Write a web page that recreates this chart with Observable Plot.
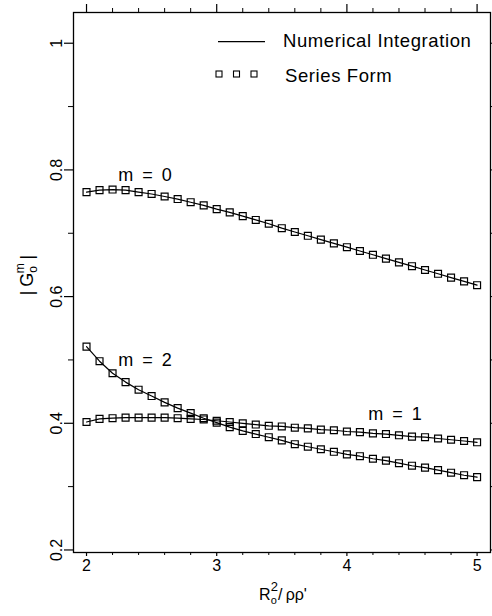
<!DOCTYPE html>
<html><head><meta charset="utf-8">
<script src="https://cdn.jsdelivr.net/npm/d3@7"></script>
<script src="https://cdn.jsdelivr.net/npm/@observablehq/plot@0.6"></script>
<style>body{margin:0;background:#fff} svg text{white-space:pre}</style>
</head><body><div id="chart"></div>
<script>
const xValues = [2.0,2.1,2.2,2.3,2.4,2.5,2.6,2.7,2.8,2.9,3.0,3.1,3.2,3.3,3.4,3.5,3.6,3.7,3.8,3.9,4.0,4.1,4.2,4.3,4.4,4.5,4.6,4.7,4.8,4.9,5.0];
const m0 = [0.765,0.768,0.769,0.768,0.765,0.762,0.758,0.754,0.749,0.744,0.738,0.733,0.727,0.721,0.715,0.708,0.702,0.696,0.690,0.684,0.678,0.672,0.666,0.660,0.654,0.648,0.642,0.636,0.630,0.624,0.618];
const m1 = [0.402,0.407,0.408,0.409,0.409,0.409,0.409,0.408,0.407,0.406,0.404,0.402,0.400,0.398,0.396,0.395,0.393,0.392,0.390,0.389,0.387,0.386,0.384,0.383,0.381,0.379,0.378,0.376,0.374,0.372,0.370];
const m2 = [0.521,0.498,0.479,0.465,0.453,0.443,0.433,0.424,0.416,0.408,0.401,0.394,0.388,0.383,0.378,0.373,0.367,0.363,0.359,0.355,0.351,0.348,0.344,0.341,0.337,0.333,0.330,0.326,0.322,0.318,0.315];
const seriesNames = ["m = 0","m = 1","m = 2"];
const labelX = [2.45, 4.37, 2.45];
const labelY = [0.791, 0.415, 0.499];
const xMajorTicks = [2,3,4,5];
const xMinorTicks = [2.2,2.4,2.6,2.8,3.2,3.4,3.6,3.8,4.2,4.4,4.6,4.8];
const yMajorTicks = [0.2,0.4,0.6,0.8,1];
const yMinorTicks = [0.3,0.5,0.7,0.9];
const legendLabels = ["Numerical Integration","Series Form"];

const allSeries = [m0, m1, m2];
const data = allSeries.flatMap((vals, s) => vals.map((v, i) => ({series: seriesNames[s], x: xValues[i], y: v})));
const labels = seriesNames.map((t, i) => ({text: t.replace(/ /g, "\u2002"), x: labelX[i], y: labelY[i]}));

const font = "Liberation Sans, Arial, sans-serif";
const svg = Plot.plot({
  width: 492, height: 616,
  marginLeft: 73, marginRight: 2, marginTop: 12, marginBottom: 64,
  style: {fontFamily: font, fontSize: "16px", background: "white", color: "black"},
  x: {domain: [1.9, 5.103], label: null},
  y: {domain: [0.196, 1.0485], label: null},
  marks: [
    Plot.axisX({ticks: xMajorTicks, anchor: "bottom", tickSize: 4, tickPadding: 3, fontSize: 16, tickFormat: d => String(d), label: null, strokeWidth: 1.2}),
    Plot.axisX({ticks: xMinorTicks, anchor: "bottom", tickSize: 3, tickFormat: () => "", label: null}),
    Plot.axisX({ticks: xMajorTicks, anchor: "top", tickSize: 9, tickFormat: () => "", label: null, strokeWidth: 1.2}),
    Plot.axisX({ticks: xMinorTicks, anchor: "top", tickSize: 5, tickFormat: () => "", label: null}),
    Plot.axisY({ticks: yMajorTicks, anchor: "left", tickSize: 9, tickPadding: 3, tickRotate: -90, fontSize: 16,
      tickFormat: d => d === 1 ? "1" : d.toFixed(1), label: null, strokeWidth: 1.2}),
    Plot.axisY({ticks: yMinorTicks, anchor: "left", tickSize: 5, tickFormat: () => "", label: null}),
    Plot.axisY({ticks: yMajorTicks.concat(yMinorTicks), anchor: "right", tickSize: 6, tickFormat: () => "", label: null}),
    Plot.frame({stroke: "black", strokeWidth: 1.3}),
    Plot.line(data, {x: "x", y: "y", z: "series", stroke: "black", strokeWidth: 1.2}),
    Plot.dot(data, {x: "x", y: "y", symbol: "square", r: 3.9, stroke: "black", strokeWidth: 1.2, fill: "none"}),
    Plot.text(labels, {x: "x", y: "y", text: "text", fontSize: 18, fill: "black", textAnchor: "middle"})
  ]
});

const g = d3.select(svg).append("g").attr("font-family", font).attr("fill", "black").attr("text-anchor", "start");
// legend
g.append("line").attr("x1", 218).attr("x2", 265).attr("y1", 41.7).attr("y2", 41.7).attr("stroke", "black").attr("stroke-width", 1.2);
g.append("text").attr("x", 283).attr("y", 47).attr("text-anchor", "start").attr("font-size", 18.5).attr("letter-spacing", 0.6).text(legendLabels[0]);
[219, 236.5, 254].forEach(cx => g.append("rect").attr("x", cx - 3).attr("y", 71).attr("width", 6).attr("height", 6).attr("fill", "none").attr("stroke", "black").attr("stroke-width", 1.1));
g.append("text").attr("x", 285).attr("y", 81.5).attr("text-anchor", "start").attr("font-size", 18.5).attr("letter-spacing", 0.6).text(legendLabels[1]);
// y title
const yt = g.append("text").attr("transform", "translate(33,275) rotate(-90)").attr("text-anchor", "middle").attr("font-size", 18);
yt.append("tspan").text("|\u2009G");
yt.append("tspan").attr("font-size", 12).attr("dy", 4).text("o");
yt.append("tspan").attr("font-size", 12).attr("dx", -7).attr("dy", -13).text("m");
yt.append("tspan").attr("dy", 9).text("\u2009|");
// x title
const xt = g.append("text").attr("x", 283).attr("y", 600).attr("text-anchor", "middle").attr("font-size", 16);
xt.append("tspan").text("R");
xt.append("tspan").attr("font-size", 11).attr("dy", 4).text("o");
xt.append("tspan").attr("font-size", 13).attr("dx", -6).attr("dy", -13).text("2");
xt.append("tspan").attr("dy", 9).text("/\u2009ρρ'");
document.getElementById("chart").appendChild(svg);
</script></body></html>
